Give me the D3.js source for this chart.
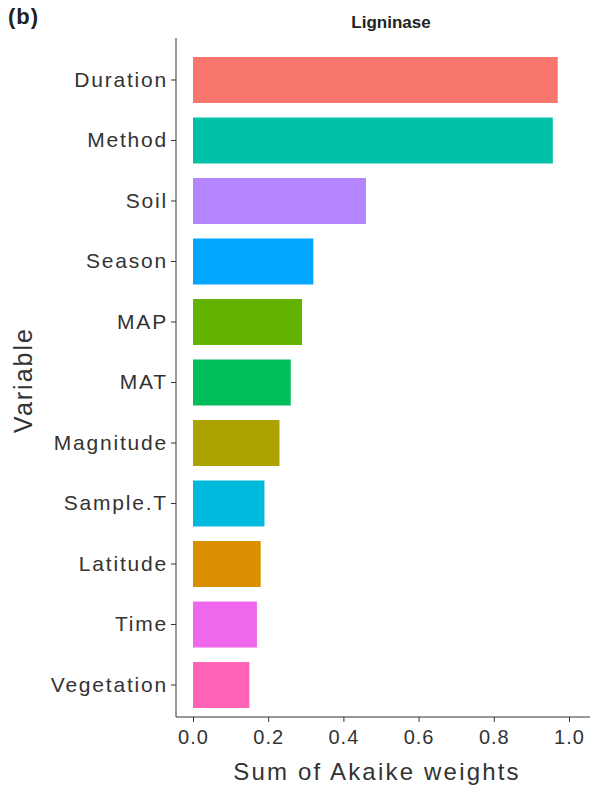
<!DOCTYPE html>
<html>
<head>
<meta charset="utf-8">
<script src="https://cdn.jsdelivr.net/npm/d3@7"></script>
<style>
  body { margin: 0; background: #fff; }
  text { font-family: "Liberation Sans", Arial, sans-serif; }
</style>
</head>
<body>
<div id="chart"></div>
<script>
  // values
  const variables = ["Duration", "Method", "Soil", "Season", "MAP", "MAT",
    "Magnitude", "Sample.T", "Latitude", "Time", "Vegetation"];
  const weights = [0.97, 0.957, 0.46, 0.32, 0.29, 0.26, 0.23, 0.19, 0.18, 0.17, 0.15];
  const barColors = ["#F8766D", "#00C1A7", "#B385FF", "#00A6FF", "#64B200", "#00BD5C",
    "#AEA200", "#00BADE", "#DB8E00", "#EF67EB", "#FF63B6"];
  const xTicks = [0, 0.2, 0.4, 0.6, 0.8, 1.0];

  const WIDTH = 594, HEIGHT = 793;
  const plot = { left: 176, right: 590, top: 38, bottom: 717 };

  const svg = d3.select("#chart").append("svg")
    .attr("width", WIDTH)
    .attr("height", HEIGHT);

  const x = d3.scaleLinear().domain([0, 1]).range([193, 569]);

  const y = d3.scaleBand()
    .domain(variables)
    .range([57, 708])
    .paddingInner(0.24)
    .paddingOuter(0);

  const data = variables.map((v, i) => ({ v, w: weights[i], c: barColors[i] }));

  // bars
  svg.append("g")
    .selectAll("rect")
    .data(data)
    .enter()
    .append("rect")
    .attr("x", x(0))
    .attr("y", d => y(d.v))
    .attr("width", d => x(d.w) - x(0))
    .attr("height", y.bandwidth())
    .attr("fill", d => d.c);

  // y axis
  const yAxis = svg.append("g")
    .attr("transform", `translate(${plot.left},0)`)
    .call(d3.axisLeft(y).tickSize(5).tickPadding(3).tickSizeOuter(0));
  yAxis.select(".domain").attr("d", `M0,${plot.top}V${plot.bottom}`).attr("stroke", "#333");
  yAxis.selectAll(".tick line").attr("stroke", "#333");
  yAxis.selectAll(".tick text")
    .style("font-size", "21px")
    .style("letter-spacing", "1.8px")
    .attr("fill", "#333");

  // x axis
  const xAxis = svg.append("g")
    .attr("transform", `translate(0,${plot.bottom})`)
    .call(d3.axisBottom(x).tickValues(xTicks).tickFormat(d3.format(".1f")).tickSize(5).tickPadding(8).tickSizeOuter(0));
  xAxis.select(".domain").attr("d", `M${plot.left},0H${plot.right}`).attr("stroke", "#333");
  xAxis.selectAll(".tick line").attr("stroke", "#333");
  xAxis.selectAll(".tick text")
    .style("font-size", "20px")
    .style("letter-spacing", "1px")
    .attr("fill", "#333");

  // axis titles
  svg.append("text")
    .attr("x", 377)
    .attr("y", 780)
    .attr("text-anchor", "middle")
    .style("font-size", "24px")
    .style("letter-spacing", "2.2px")
    .attr("fill", "#333")
    .text("Sum of Akaike weights");

  svg.append("text")
    .attr("transform", `translate(32,380) rotate(-90)`)
    .attr("text-anchor", "middle")
    .style("font-size", "25px")
    .style("letter-spacing", "2px")
    .attr("fill", "#333")
    .text("Variable");

  // title and panel label
  svg.append("text")
    .attr("x", 391)
    .attr("y", 28)
    .attr("text-anchor", "middle")
    .style("font-size", "17px")
    .style("font-weight", "bold")
    .attr("fill", "#222")
    .text("Ligninase");

  svg.append("text")
    .attr("x", 8)
    .attr("y", 24)
    .style("font-size", "22px")
    .style("font-weight", "bold")
    .style("letter-spacing", "1px")
    .attr("fill", "#222")
    .text("(b)");
</script>
</body>
</html>
